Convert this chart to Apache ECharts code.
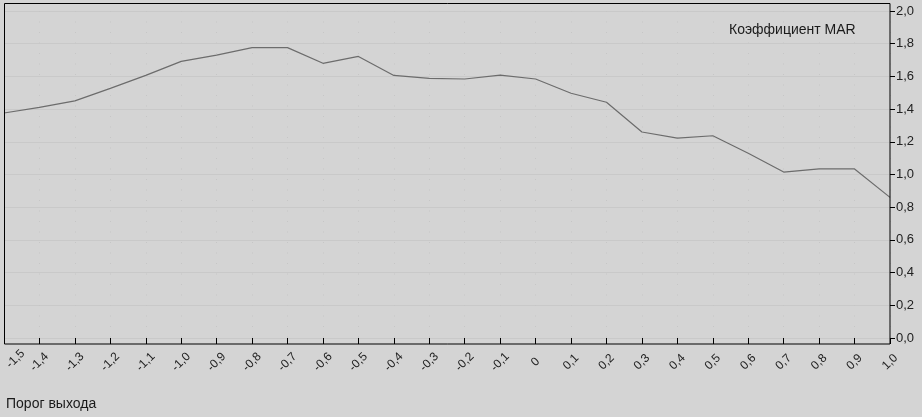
<!DOCTYPE html>
<html>
<head>
<meta charset="utf-8">
<script src="https://cdn.jsdelivr.net/npm/echarts@6/dist/echarts.min.js"></script>
<style>
html,body{margin:0;padding:0;background:#d4d4d4;}
#c{width:922px;height:417px;}
</style>
</head>
<body>
<div id="c"></div>
<script>
var categories = ['-1,5','-1,4','-1,3','-1,2','-1,1','-1,0','-0,9','-0,8','-0,7','-0,6','-0,5','-0,4','-0,3','-0,2','-0,1','0','0,1','0,2','0,3','0,4','0,5','0,6','0,7','0,8','0,9','1,0'];
var marValues = [1.376,1.41,1.45,1.527,1.606,1.692,1.73,1.776,1.776,1.68,1.722,1.606,1.588,1.584,1.608,1.584,1.497,1.442,1.26,1.223,1.237,1.13,1.015,1.034,1.034,0.86];
var seriesName = 'Коэффициент MAR';
var xTitle = 'Порог выхода';

var FONT = '"Liberation Sans Narrow", "Liberation Sans", Arial, sans-serif';
var xData = categories.map(function (c, i) {
  return i === 0 ? {value: c, textStyle: {align: 'left', verticalAlign: 'top'}} : c;
});
var chart = echarts.init(document.getElementById('c'), null, {renderer:'canvas'});
chart.setOption({
  backgroundColor: '#d4d4d4',
  animation: false,
  title: [
    {text: seriesName, left: 729, top: 23, padding: 0, textStyle: {fontFamily: FONT, fontSize: 14, fontWeight: 'normal', color: '#1a1a1a'}},
    {text: xTitle, left: 6, top: 397, padding: 0, textStyle: {fontFamily: FONT, fontSize: 14, fontWeight: 'normal', color: '#1a1a1a'}}
  ],
  grid: {left: 4, right: 32, top: 11, bottom: 79, containLabel: false, outerBoundsMode: 'none'},
  graphic: [{
    type: 'rect', silent: true, z: 10,
    shape: {x: 4.5, y: 3.5, width: 885.5, height: 340.5},
    style: {fill: 'none', stroke: '#000', lineWidth: 1}
  }],
  xAxis: {
    type: 'category', data: xData, boundaryGap: false, offset: 6,
    axisLine: {show: false},
    axisTick: {show: true, length: 6, alignWithLabel: true, lineStyle: {color: '#000'}},
    axisLabel: {rotate: 45, align: 'center', verticalAlign: 'middle', margin: 18, interval: 0,
      fontFamily: FONT, fontSize: 12, color: '#222'},
    splitLine: {show: true, lineStyle: {color: '#c6c6c6', type: [1, 9.5], width: 1}}
  },
  yAxis: {
    type: 'value', position: 'right', min: 0, max: 2, interval: 0.2,
    axisLine: {show: false},
    axisTick: {show: true, length: 5, lineStyle: {color: '#000'}},
    axisLabel: {margin: 6, fontFamily: FONT, fontSize: 13, color: '#222',
      formatter: function (v) { return v.toFixed(1).replace('.', ','); }},
    splitLine: {show: true, lineStyle: {color: '#c9c9c9', width: 1}}
  },
  series: [{
    name: seriesName, type: 'line', data: marValues, symbol: 'none',
    lineStyle: {color: '#6c6c6c', width: 1.2}
  }]
});
</script>
</body>
</html>
